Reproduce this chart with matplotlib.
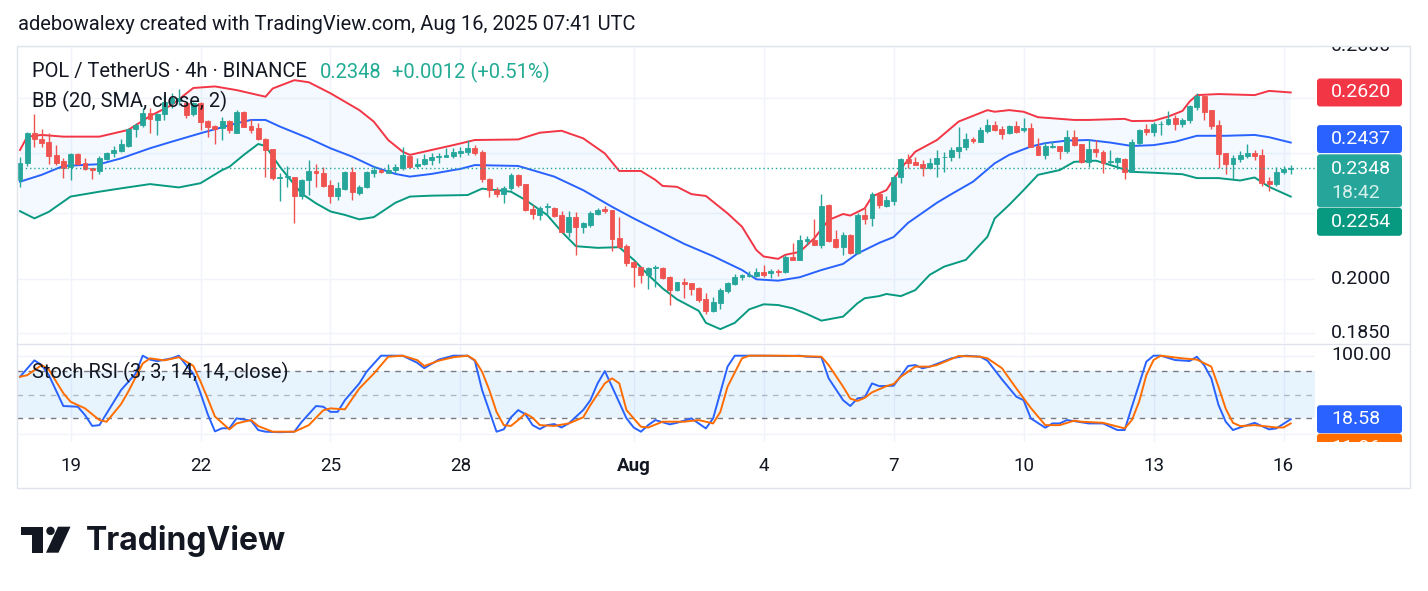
import matplotlib

matplotlib.use("agg")

import matplotlib.pyplot as plt
from matplotlib.patches import FancyBboxPatch, Polygon, Circle, Rectangle
import numpy as np
import pandas as pd

plt.rcParams["font.family"] = ["Roboto", "DejaVu Sans"]

# ---------------- data (POL/USDT 4h) ----------------
start = "2025-07-17 20:00"

opens = [
    0.2307, 0.2367, 0.2470, 0.2451, 0.2438, 0.2393, 0.2373, 0.2351, 0.2397, 0.2365,
    0.2348, 0.2340, 0.2380, 0.2402, 0.2409, 0.2425, 0.2485, 0.2500, 0.2542, 0.2518,
    0.2540, 0.2579, 0.2589, 0.2582, 0.2540, 0.2582, 0.2513, 0.2496, 0.2488, 0.2514,
    0.2472, 0.2548, 0.2496, 0.2488, 0.2450, 0.2414, 0.2315, 0.2318, 0.2318, 0.2256,
    0.2307, 0.2339, 0.2331, 0.2291, 0.2256, 0.2278, 0.2334, 0.2267, 0.2284, 0.2333,
    0.2342, 0.2333, 0.2342, 0.2348, 0.2391, 0.2356, 0.2361, 0.2378, 0.2387, 0.2388,
    0.2391, 0.2399, 0.2405, 0.2417, 0.2403, 0.2311, 0.2277, 0.2264, 0.2281, 0.2326,
    0.2295, 0.2214, 0.2195, 0.2221, 0.2216, 0.2195, 0.2143, 0.2188, 0.2156, 0.2163,
    0.2198, 0.2213, 0.2211, 0.2122, 0.2099, 0.2050, 0.2037, 0.2013, 0.2032, 0.2034,
    0.2006, 0.1969, 0.1991, 0.1988, 0.1974, 0.1943, 0.1911, 0.1933, 0.1967, 0.1986,
    0.2006, 0.2011, 0.2011, 0.2021, 0.2017, 0.2025, 0.2020, 0.2066, 0.2057, 0.2114,
    0.2117, 0.2101, 0.2227, 0.2119, 0.2096, 0.2132, 0.2076, 0.2195, 0.2186, 0.2264,
    0.2225, 0.2240, 0.2320, 0.2380, 0.2368, 0.2362, 0.2348, 0.2362, 0.2386, 0.2386,
    0.2408, 0.2420, 0.2451, 0.2440, 0.2478, 0.2500, 0.2485, 0.2470, 0.2496, 0.2480,
    0.2488, 0.2425, 0.2395, 0.2423, 0.2425, 0.2409, 0.2456, 0.2431, 0.2368, 0.2414,
    0.2405, 0.2369, 0.2370, 0.2380, 0.2336, 0.2437, 0.2485, 0.2476, 0.2502, 0.2502,
    0.2524, 0.2502, 0.2518, 0.2567, 0.2607, 0.2554, 0.2500, 0.2399, 0.2362, 0.2380,
    0.2390, 0.2399, 0.2394, 0.2305, 0.2295, 0.2334, 0.2346,
]
highs = [
    0.2388, 0.2476, 0.2540, 0.2485, 0.2470, 0.2428, 0.2382, 0.2399, 0.2402, 0.2382,
    0.2350, 0.2390, 0.2405, 0.2425, 0.2449, 0.2488, 0.2506, 0.2560, 0.2560, 0.2544,
    0.2610, 0.2617, 0.2635, 0.2586, 0.2586, 0.2586, 0.2518, 0.2500, 0.2528, 0.2518,
    0.2554, 0.2551, 0.2520, 0.2506, 0.2452, 0.2414, 0.2331, 0.2356, 0.2318, 0.2311,
    0.2376, 0.2362, 0.2353, 0.2309, 0.2303, 0.2339, 0.2351, 0.2292, 0.2340, 0.2356,
    0.2344, 0.2362, 0.2362, 0.2421, 0.2394, 0.2382, 0.2396, 0.2399, 0.2399, 0.2417,
    0.2417, 0.2423, 0.2446, 0.2428, 0.2411, 0.2315, 0.2286, 0.2289, 0.2331, 0.2329,
    0.2297, 0.2227, 0.2222, 0.2232, 0.2219, 0.2209, 0.2206, 0.2204, 0.2174, 0.2206,
    0.2216, 0.2224, 0.2211, 0.2189, 0.2104, 0.2053, 0.2037, 0.2037, 0.2041, 0.2037,
    0.2011, 0.1993, 0.2003, 0.1990, 0.1978, 0.1960, 0.1949, 0.1974, 0.1993, 0.2015,
    0.2015, 0.2025, 0.2032, 0.2042, 0.2029, 0.2029, 0.2072, 0.2107, 0.2132, 0.2129,
    0.2181, 0.2264, 0.2230, 0.2148, 0.2140, 0.2135, 0.2200, 0.2216, 0.2270, 0.2270,
    0.2256, 0.2326, 0.2382, 0.2397, 0.2388, 0.2376, 0.2382, 0.2411, 0.2405, 0.2423,
    0.2492, 0.2470, 0.2458, 0.2492, 0.2522, 0.2514, 0.2496, 0.2500, 0.2515, 0.2524,
    0.2508, 0.2452, 0.2440, 0.2444, 0.2425, 0.2480, 0.2480, 0.2432, 0.2449, 0.2446,
    0.2411, 0.2411, 0.2388, 0.2382, 0.2449, 0.2485, 0.2504, 0.2512, 0.2515, 0.2551,
    0.2535, 0.2524, 0.2573, 0.2617, 0.2610, 0.2554, 0.2518, 0.2399, 0.2394, 0.2408,
    0.2432, 0.2411, 0.2414, 0.2320, 0.2353, 0.2357, 0.2359,
]
lows = [
    0.2286, 0.2356, 0.2423, 0.2423, 0.2362, 0.2360, 0.2315, 0.2307, 0.2359, 0.2342,
    0.2311, 0.2329, 0.2376, 0.2388, 0.2405, 0.2423, 0.2458, 0.2492, 0.2472, 0.2464,
    0.2518, 0.2560, 0.2573, 0.2524, 0.2532, 0.2482, 0.2456, 0.2432, 0.2446, 0.2470,
    0.2471, 0.2492, 0.2472, 0.2446, 0.2318, 0.2309, 0.2241, 0.2286, 0.2171, 0.2245,
    0.2259, 0.2284, 0.2284, 0.2232, 0.2243, 0.2275, 0.2243, 0.2259, 0.2281, 0.2320,
    0.2331, 0.2331, 0.2331, 0.2342, 0.2350, 0.2350, 0.2359, 0.2359, 0.2365, 0.2388,
    0.2382, 0.2388, 0.2394, 0.2394, 0.2303, 0.2254, 0.2254, 0.2234, 0.2275, 0.2284,
    0.2206, 0.2181, 0.2179, 0.2195, 0.2190, 0.2138, 0.2127, 0.2072, 0.2138, 0.2158,
    0.2195, 0.2202, 0.2084, 0.2094, 0.2039, 0.1978, 0.1988, 0.1971, 0.1978, 0.2001,
    0.1927, 0.1967, 0.1946, 0.1955, 0.1936, 0.1902, 0.1908, 0.1915, 0.1961, 0.1983,
    0.1998, 0.2006, 0.2008, 0.2008, 0.2005, 0.2010, 0.2017, 0.2057, 0.2057, 0.2101,
    0.2101, 0.2093, 0.2112, 0.2094, 0.2072, 0.2074, 0.2074, 0.2167, 0.2161, 0.2216,
    0.2221, 0.2227, 0.2300, 0.2348, 0.2359, 0.2322, 0.2344, 0.2320, 0.2336, 0.2374,
    0.2384, 0.2411, 0.2437, 0.2440, 0.2470, 0.2478, 0.2450, 0.2468, 0.2472, 0.2476,
    0.2421, 0.2394, 0.2380, 0.2417, 0.2380, 0.2399, 0.2425, 0.2365, 0.2353, 0.2388,
    0.2333, 0.2362, 0.2344, 0.2311, 0.2334, 0.2428, 0.2464, 0.2461, 0.2465, 0.2499,
    0.2482, 0.2494, 0.2508, 0.2554, 0.2518, 0.2485, 0.2348, 0.2329, 0.2309, 0.2369,
    0.2384, 0.2376, 0.2289, 0.2273, 0.2290, 0.2329, 0.2329,
]
closes = [
    0.2365, 0.2470, 0.2449, 0.2437, 0.2391, 0.2367, 0.2350, 0.2397, 0.2362, 0.2344,
    0.2342, 0.2382, 0.2399, 0.2411, 0.2432, 0.2485, 0.2499, 0.2542, 0.2520, 0.2540,
    0.2586, 0.2598, 0.2598, 0.2536, 0.2582, 0.2512, 0.2494, 0.2485, 0.2514, 0.2482,
    0.2548, 0.2494, 0.2482, 0.2449, 0.2411, 0.2315, 0.2318, 0.2322, 0.2256, 0.2309,
    0.2339, 0.2331, 0.2289, 0.2256, 0.2282, 0.2334, 0.2270, 0.2284, 0.2334, 0.2342,
    0.2334, 0.2342, 0.2353, 0.2394, 0.2351, 0.2362, 0.2380, 0.2388, 0.2390, 0.2394,
    0.2403, 0.2408, 0.2417, 0.2402, 0.2311, 0.2275, 0.2264, 0.2281, 0.2326, 0.2292,
    0.2211, 0.2197, 0.2216, 0.2224, 0.2193, 0.2143, 0.2188, 0.2156, 0.2169, 0.2202,
    0.2211, 0.2209, 0.2120, 0.2096, 0.2047, 0.2037, 0.2013, 0.2032, 0.2035, 0.2004,
    0.1969, 0.1991, 0.1986, 0.1971, 0.1941, 0.1911, 0.1935, 0.1969, 0.1988, 0.2006,
    0.2013, 0.2013, 0.2021, 0.2013, 0.2025, 0.2020, 0.2067, 0.2057, 0.2117, 0.2119,
    0.2101, 0.2225, 0.2115, 0.2096, 0.2132, 0.2076, 0.2195, 0.2182, 0.2264, 0.2227,
    0.2243, 0.2320, 0.2380, 0.2367, 0.2360, 0.2348, 0.2365, 0.2382, 0.2388, 0.2411,
    0.2421, 0.2449, 0.2441, 0.2480, 0.2500, 0.2480, 0.2468, 0.2496, 0.2476, 0.2488,
    0.2423, 0.2395, 0.2425, 0.2425, 0.2409, 0.2456, 0.2430, 0.2368, 0.2413, 0.2405,
    0.2365, 0.2373, 0.2382, 0.2336, 0.2440, 0.2482, 0.2476, 0.2504, 0.2504, 0.2522,
    0.2502, 0.2518, 0.2569, 0.2607, 0.2548, 0.2496, 0.2397, 0.2362, 0.2383, 0.2394,
    0.2399, 0.2390, 0.2300, 0.2295, 0.2334, 0.2346, 0.2348,
]

# Bollinger Bands (20, SMA, close, 2): candle index -> band value
up_idx = [
    0, 1, 3, 6, 11, 15, 18, 21, 24, 27, 30, 34, 35, 38, 40, 43, 47, 49, 51, 53,
    54, 57, 60, 62, 63, 69, 72, 75, 78, 81, 83, 86, 88, 89, 91, 93, 95, 98, 100, 102,
    103, 105, 106, 108, 110, 112, 114, 115, 117, 118, 120, 122, 124, 127, 130, 134, 135, 137, 139, 141,
    146, 148, 153, 154, 157, 159, 161, 162, 163, 166, 171, 173, 176,
]
bb_upper = [
    0.2411, 0.2458, 0.2464, 0.2458, 0.2458, 0.2482, 0.2532, 0.2573, 0.2637, 0.2643,
    0.2629, 0.2604, 0.2635, 0.2667, 0.2659, 0.2617, 0.2554, 0.2512, 0.2446, 0.2405,
    0.2394, 0.2411, 0.2428, 0.2440, 0.2446, 0.2448, 0.2472, 0.2479, 0.2452, 0.2399,
    0.2339, 0.2339, 0.2309, 0.2289, 0.2286, 0.2262, 0.2256, 0.2200, 0.2158, 0.2086,
    0.2067, 0.2060, 0.2072, 0.2081, 0.2122, 0.2179, 0.2198, 0.2193, 0.2216, 0.2254,
    0.2275, 0.2348, 0.2405, 0.2446, 0.2512, 0.2554, 0.2548, 0.2554, 0.2548, 0.2528,
    0.2518, 0.2518, 0.2522, 0.2514, 0.2515, 0.2530, 0.2551, 0.2586, 0.2610, 0.2614,
    0.2610, 0.2626, 0.2620,
]
mid_idx = [
    0, 3, 6, 11, 14, 18, 21, 25, 30, 32, 34, 36, 40, 43, 46, 49, 52, 54, 57, 60,
    61, 63, 69, 74, 78, 82, 85, 88, 92, 96, 100, 102, 105, 108, 111, 114, 116, 119, 121, 123,
    127, 129, 132, 135, 137, 140, 142, 145, 148, 151, 154, 157, 160, 163, 167, 171, 173, 176,
]
bb_mid = [
    0.2303, 0.2326, 0.2356, 0.2362, 0.2382, 0.2417, 0.2440, 0.2470, 0.2506, 0.2518,
    0.2518, 0.2494, 0.2452, 0.2417, 0.2388, 0.2353, 0.2329, 0.2320, 0.2329, 0.2342,
    0.2346, 0.2359, 0.2356, 0.2320, 0.2275, 0.2221, 0.2184, 0.2150, 0.2105, 0.2068,
    0.2027, 0.2000, 0.1996, 0.2006, 0.2027, 0.2045, 0.2076, 0.2108, 0.2126, 0.2170,
    0.2234, 0.2262, 0.2303, 0.2365, 0.2394, 0.2423, 0.2435, 0.2444, 0.2446, 0.2437,
    0.2425, 0.2428, 0.2440, 0.2461, 0.2461, 0.2464, 0.2456, 0.2437,
]
low_idx = [
    0, 2, 4, 7, 11, 14, 18, 22, 25, 28, 29, 31, 33, 34, 36, 39, 41, 43, 45, 47,
    49, 52, 54, 57, 62, 64, 68, 70, 73, 75, 77, 80, 83, 85, 87, 89, 91, 94, 95, 97,
    99, 101, 103, 105, 107, 109, 111, 114, 116, 117, 119, 120, 122, 124, 126, 128, 131, 134, 135, 137,
    139, 141, 144, 146, 149, 150, 154, 157, 161, 163, 166, 169, 171, 173, 176,
]
bb_lower = [
    0.2207, 0.2184, 0.2205, 0.2254, 0.2270, 0.2281, 0.2295, 0.2284, 0.2298, 0.2342,
    0.2353, 0.2394, 0.2432, 0.2425, 0.2353, 0.2264, 0.2232, 0.2206, 0.2195, 0.2181,
    0.2188, 0.2234, 0.2254, 0.2257, 0.2259, 0.2280, 0.2270, 0.2243, 0.2195, 0.2143,
    0.2098, 0.2093, 0.2095, 0.2057, 0.2013, 0.1974, 0.1943, 0.1911, 0.1878, 0.1861,
    0.1878, 0.1915, 0.1929, 0.1927, 0.1918, 0.1902, 0.1884, 0.1895, 0.1932, 0.1946,
    0.1952, 0.1958, 0.1952, 0.1969, 0.2013, 0.2037, 0.2057, 0.2127, 0.2184, 0.2227,
    0.2275, 0.2326, 0.2342, 0.2370, 0.2374, 0.2367, 0.2336, 0.2333, 0.2328, 0.2315,
    0.2315, 0.2307, 0.2317, 0.2286, 0.2254,
]

# Stoch RSI (3, 3, 14, 14, close): candle index -> value
k_idx = [
    0, 2, 3, 4, 6, 8, 9, 10, 11, 13, 14, 16, 17, 18, 19, 21, 22, 23, 24, 25,
    26, 27, 28, 29, 30, 32, 33, 34, 36, 38, 39, 41, 42, 43, 44, 45, 47, 48, 50, 53,
    55, 56, 58, 60, 62, 63, 64, 66, 67, 68, 69, 70, 71, 72, 73, 74, 75, 76, 78, 79,
    80, 81, 82, 84, 85, 86, 87, 88, 90, 91, 93, 94, 95, 96, 98, 99, 103, 106, 108, 109,
    111, 112, 114, 115, 116, 117, 118, 119, 121, 123, 124, 125, 126, 129, 131, 133, 134, 136, 138, 139,
    140, 142, 143, 144, 145, 146, 148, 150, 152, 153, 154, 156, 157, 158, 160, 162, 163, 164, 165, 166,
    167, 168, 169, 171, 173, 174, 176,
]
k_val = [
    73, 94, 88, 75, 35.5, 34.6, 24, 10, 11, 41, 56, 77, 100, 95, 93, 96.6, 100, 88, 77, 52,
    25, 3, 7, 7, 19.7, 16.7, 4.7, 2.6, 2, 2.6, 15, 35.5, 34.6, 28, 28, 43, 64.5, 79.5, 100, 100,
    91, 84, 95, 100, 100, 93.6, 56, 2.6, 5.6, 21, 30.3, 25, 11, 6, 11, 12.4, 8, 13.2, 30.3, 43,
    64.5, 80.3, 60.3, 19.7, 8, 2.6, 11, 17.5, 12, 14, 19.7, 13.2, 6.8, 19.7, 86, 100, 100, 99.6, 100, 98.7,
    98, 71, 43, 35.5, 45.3, 46.6, 64.5, 61, 61.5, 86.8, 88, 83.8, 86, 96.6, 100, 98.7, 93.6, 69.7, 47.4, 43,
    19.7, 7.7, 13.2, 13.2, 17.5, 16.2, 13.2, 13.2, 4.7, 4.7, 34.6, 92.3, 100, 100, 94.4, 93.2, 98.7, 88, 71, 36.8,
    15.4, 4.7, 8, 14, 5.6, 6.8, 18.58,
]
d_idx = [
    0, 1, 3, 4, 6, 7, 9, 11, 12, 14, 15, 17, 18, 20, 22, 24, 25, 26, 27, 29,
    30, 32, 33, 35, 38, 40, 42, 43, 45, 47, 49, 51, 53, 55, 56, 58, 60, 62, 63, 64,
    65, 66, 67, 68, 69, 70, 71, 72, 74, 76, 78, 79, 81, 82, 83, 84, 86, 87, 89, 92,
    94, 96, 97, 98, 100, 101, 106, 111, 112, 114, 115, 116, 117, 118, 120, 121, 122, 124, 126, 127,
    130, 133, 134, 136, 138, 140, 142, 144, 146, 147, 150, 153, 154, 155, 156, 157, 158, 161, 163, 165,
    166, 167, 168, 169, 171, 174, 175, 176,
]
d_val = [
    73, 75, 88, 82, 52, 41, 32.5, 17.5, 15.4, 38, 54, 90, 96.6, 94, 98, 87, 67, 45, 22, 5.6,
    13.2, 17.5, 9.8, 2.6, 2.6, 11, 30, 32.5, 31.2, 58, 77, 98.7, 100, 94.4, 86.8, 93.6, 98, 100, 94.4, 79.5,
    56, 28, 11, 10, 17.5, 26, 20.5, 11, 10, 13.2, 21, 36.8, 64.5, 71, 64.5, 30.3, 9, 8, 15.4, 15.4,
    17.5, 13.2, 28, 60.3, 96.6, 100, 100, 98.7, 88, 60.3, 45, 42, 46, 53, 61, 63.7, 73, 86, 86, 88,
    99.6, 98.7, 96.6, 84, 58, 33, 11, 11, 16.7, 15.4, 14, 6.8, 17.5, 41, 75, 94.4, 100, 96.6, 95, 86,
    60, 32, 14, 9.8, 11, 8, 8, 13.2,
]
d_last_label = "11.86"

day_dates = ["2025-07-19", "2025-07-22", "2025-07-25", "2025-07-28", "2025-08-01",
             "2025-08-04", "2025-08-07", "2025-08-10", "2025-08-13", "2025-08-16"]
day_labels = ["19", "22", "25", "28", "Aug", "4", "7", "10", "13", "16"]
price_grid = [0.28, 0.26, 0.24, 0.22, 0.20, 0.185]
price_labels = [(0.28, "0.2800"), (0.20, "0.2000"), (0.185, "0.1850")]

# ---------------- style ----------------
UP, DOWN = "#26a69a", "#ef5350"
BB_UP, BB_MID, BB_LOW = "#f23645", "#2962ff", "#089981"
K_COL, D_COL = "#2962ff", "#ff6d00"
GRID, BORDER, TEXT = "#f0f3fa", "#e0e3eb", "#131722"
FS = 14.5

W, H = 1428, 591
fig = plt.figure(figsize=(W / 100, H / 100), dpi=100)
fig.patch.set_facecolor("white")


def px_axes(left, top, right, bottom, **kw):
    return fig.add_axes([left / W, 1 - bottom / H, (right - left) / W, (bottom - top) / H], **kw)


X0, STEP = 20.0, 7.22  # pixel of first candle, pixels per candle
xlim = ((17 - X0) / STEP, (1315 - X0) / STEP)

times = pd.date_range(start, periods=len(closes), freq="4h")
tick_idx = [(pd.Timestamp(d) - times[0]) / pd.Timedelta("4h") for d in day_dates]

# main pane
ax = px_axes(17, 46, 1315, 343)
ax.set_yscale("log")
ax.set_xlim(*xlim)
ax.set_ylim(0.18241, 0.2802)
ax.axis("off")

for t in tick_idx:
    ax.axvline(t, color=GRID, lw=1, zorder=0)
for p in price_grid:
    ax.axhline(p, color=GRID, lw=1, zorder=0)

ax.fill(np.r_[up_idx, low_idx[::-1]], np.r_[bb_upper, bb_lower[::-1]],
        color="#2196f3", alpha=0.05, lw=0, zorder=1)
ax.plot(up_idx, bb_upper, color=BB_UP, lw=1.4, zorder=2)
ax.plot(mid_idx, bb_mid, color=BB_MID, lw=1.4, zorder=2)
ax.plot(low_idx, bb_lower, color=BB_LOW, lw=1.4, zorder=2)

o, h_, l_, c = map(np.array, (opens, highs, lows, closes))
x = np.arange(len(c))
cols = np.where(c >= o, UP, DOWN)
ax.vlines(x, l_, h_, colors=cols, lw=1, zorder=3)
ax.bar(x, np.abs(c - o), bottom=np.minimum(o, c), width=0.68, color=cols,
       edgecolor=cols, lw=0.6, zorder=4)

ax.axhline(c[-1], color=UP, lw=1, ls=(0, (1, 2)), zorder=5)

# stoch pane
ax2 = px_axes(17, 345, 1315, 442)
ax2.set_xlim(*xlim)
ax2.set_ylim(-10.6, 113.7)
ax2.axis("off")
for t in tick_idx:
    ax2.axvline(t, color=GRID, lw=1, zorder=0)
ax2.axhline(100, color=GRID, lw=1, zorder=0)
ax2.axhline(0, color=GRID, lw=1, zorder=0)
ax2.axhspan(20, 80, color="#2196f3", alpha=0.1, lw=0, zorder=1)
ax2.axhline(80, color="#787b86", lw=1, ls=(0, (4, 4)), zorder=2)
ax2.axhline(50, color="#787b86", lw=1, ls=(0, (4, 4)), alpha=0.5, zorder=2)
ax2.axhline(20, color="#787b86", lw=1, ls=(0, (4, 4)), zorder=2)
ax2.plot(k_idx, k_val, color=K_COL, lw=1.4, zorder=3)
ax2.plot(d_idx, d_val, color=D_COL, lw=1.4, zorder=3)


def ypx(axis, v):
    return H - axis.transData.transform((0, v))[1]


def xpx(axis, v):
    return axis.transData.transform((v, 1))[0]


# price scales (pixel coordinates, clipped to each pane)
pax = px_axes(1315, 46, 1410, 343)
sax = px_axes(1315, 345, 1410, 442)
for a, (t, b) in ((pax, (46, 343)), (sax, (345, 442))):
    a.set_xlim(1315, 1410)
    a.set_ylim(b, t)
    a.axis("off")


def tag(a, top, height, color):
    a.add_patch(FancyBboxPatch((1317, top), 85, height, boxstyle="round,pad=0,rounding_size=3",
                               fc=color, ec="none", clip_on=True))


def scale_text(a, y, s, color=TEXT, **kw):
    a.text(1331, y, s, color=color, fontsize=14, va="center", ha="left", clip_on=True, **kw)


for v, s in price_labels:
    scale_text(pax, ypx(ax, v), s)

y_up = ypx(ax, bb_upper[-1])
tag(pax, y_up - 14, 28, BB_UP)
scale_text(pax, y_up, f"{bb_upper[-1]:.4f}", "white")

y_mid = ypx(ax, bb_mid[-1]) - 3.5
tag(pax, y_mid - 14, 28, BB_MID)
scale_text(pax, y_mid, f"{bb_mid[-1]:.4f}", "white")

y_last = ypx(ax, c[-1])
tag(pax, y_last - 14, 53, UP)
scale_text(pax, y_last + 1, f"{c[-1]:.4f}", "white")
scale_text(pax, y_last + 24.5, "18:42", "#d4eeeb")

y_low = y_last - 14 + 53 + 14.5
tag(pax, y_low - 14, 28, BB_LOW)
scale_text(pax, y_low, f"{bb_lower[-1]:.4f}", "white")

scale_text(sax, ypx(ax2, 100) - 1, "100.00")
y_k = ypx(ax2, k_val[-1])
tag(sax, y_k - 14, 28, K_COL)
scale_text(sax, y_k, f"{k_val[-1]:.2f}", "white")
tag(sax, y_k + 14.5, 28, D_COL)
scale_text(sax, y_k + 28.5, d_last_label, "white")

# overlay in figure pixels: frame, texts, logo
ov = fig.add_axes([0, 0, 1, 1], zorder=10)
ov.set_xlim(0, W)
ov.set_ylim(H, 0)
ov.axis("off")

ov.add_patch(Rectangle((17, 46), 1393, 442, fill=False, ec=BORDER, lw=1))
ov.plot([17, 1410], [344, 344], color=BORDER, lw=1)

ov.text(18, 25, "adebowalexy created with TradingView.com, Aug 16, 2025 07:41 UTC",
        fontsize=FS, color=TEXT, va="center", ha="left")
ov.text(32, 72, "POL / TetherUS \u00b7 4h \u00b7 BINANCE", fontsize=FS, color=TEXT,
        va="center", ha="left")
ov.text(320, 72, f"{c[-1]:.4f}", fontsize=FS, color="#22ab94", va="center", ha="left")
ov.text(392, 72, "+0.0012 (+0.51%)", fontsize=FS, color="#22ab94", va="center", ha="left")
ov.text(32, 101.5, "BB (20, SMA, close, 2)", fontsize=FS, color=TEXT, va="center", ha="left")
ov.text(32, 372, "Stoch RSI (3, 3, 14, 14, close)", fontsize=FS, color=TEXT,
        va="center", ha="left")

for t, lab in zip(tick_idx, day_labels):
    ov.text(xpx(ax, t), 466, lab, fontsize=13.5, color=TEXT, ha="center", va="center",
            fontweight="bold" if lab == "Aug" else "normal")

# TradingView logo
ov.add_patch(Polygon([(20.7, 526.7), (42.7, 526.7), (42.7, 552.7), (31.7, 552.7),
                      (31.7, 535), (20.7, 535)], closed=True, fc=TEXT, ec="none"))
ov.add_patch(Circle((50.5, 530.9), 4.2, fc=TEXT, ec="none"))
ov.add_patch(Polygon([(58, 526.7), (70.5, 526.7), (58.5, 552.7), (46, 552.7)],
                     closed=True, fc=TEXT, ec="none"))
ov.text(86, 541, "TradingView", fontsize=23, fontweight="bold", color=TEXT,
        family=["Inter", "DejaVu Sans"], va="center", ha="left")

fig.savefig("out.png", dpi=100, facecolor="white")
